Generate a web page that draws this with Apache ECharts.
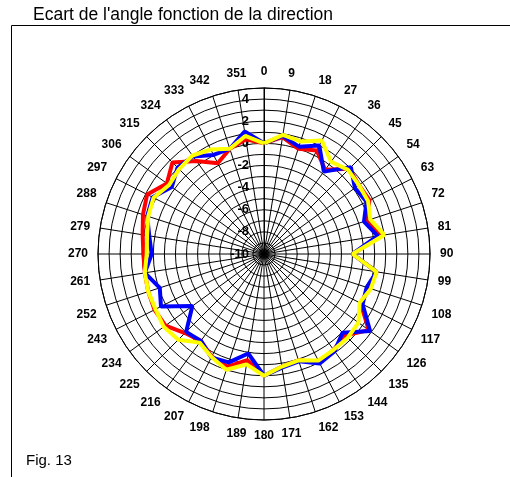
<!DOCTYPE html>
<html>
<head>
<meta charset="utf-8">
<script src="https://cdn.jsdelivr.net/npm/echarts@6/dist/echarts.min.js"></script>
<style>
  html, body { margin: 0; padding: 0; background: #fff; }
</style>
</head>
<body>
<div id="chartBox" style="width: 510px; height: 477px;"></div>
<script>
// directions (degrees)
var angles = [0, 9, 18, 27, 36, 45, 54, 63, 72, 81, 90, 99, 108, 117, 126, 135, 144, 153, 162, 171,
              180, 189, 198, 207, 216, 225, 234, 243, 252, 261, 270, 279, 288, 297, 306, 315, 324, 333, 342, 351];
// angle deviation
var redValues = [0, 0.7, 0, 0.5, -0.6, 0.9, 0.6, 0.7, -0.3, 0.7, -2, 0.3, 0, -0.2, 1.7, 0.4, 0.7, 1.0, 0.1, 0.3,
                 1, -0.3, 0.7, 0.4, -0.3, 0.1, 1.0, 1.1, 1.0, 0.9, 0.9, 1.1, 1.5, 1.85, 0.85, 1.7, 0.4, -0.8, 0, 0.5];
var blueValues = [0, 0.8, 0.2, 1.0, -0.8, 1.1, 0.15, 0.4, -0.5, 0.4, -2, 0.3, -0.25, 0, 1.85, 0.05, 0.85, 1.1, 0.2, 0.4,
                  1, -0.9, 0.3, 0.5, -0.3, -0.05, -2.0, 0.45, -0.1, 0.9, 0.15, 0.5, 1.1, 1.3, 0.3, 1.05, 0.9, 0.05, 0, 1.2];
var yellowValues = [0, 0.9, 0.7, 1.5, 0.3, 0.75, 0.6, 0.55, 0.1, 1.0, -2, 0.3, 0.15, -0.3, 0.55, 0.7, 0.7, 0.8, 0.1, 0.3,
                    1, 0.1, 1.0, 0.45, -0.1, 0.95, 1.2, 1.0, 1.0, 0.9, 0.6, 0.7, 1.0, 1.2, 0.6, 0.85, 1.0, 0.6, 0, 0.8];
var radiusLabels = [-10, -8, -6, -4, -2, 0, 2, 4];

var chart = echarts.init(document.getElementById('chartBox'));

// [radius, angle] pairs, closed back onto the first direction
function toPolar(values) {
  var d = angles.map(function (a, i) { return [values[i], a]; });
  d.push([values[0], 360]);
  return d;
}

function lineSeries(name, values, color) {
  return {
    name: name,
    type: 'line',
    coordinateSystem: 'polar',
    data: toPolar(values),
    symbol: 'none',
    silent: true,
    lineStyle: { color: color, width: 4 }
  };
}

var labelFont = { color: '#000', fontFamily: 'Liberation Sans, Arial', fontWeight: 'bold', fontSize: 12 };

var option = {
  animation: false,
  backgroundColor: '#fff',
  polar: { center: [264, 254], radius: 166 },
  angleAxis: {
    type: 'value',
    min: 0,
    max: 360,
    interval: 9,
    startAngle: 90,
    clockwise: true,
    axisLine: { lineStyle: { color: '#000', width: 1 } },
    axisTick: { show: false },
    axisLabel: Object.assign({
      margin: 10,
      formatter: function (v) { return v === 360 ? '' : String(v); }
    }, labelFont),
    splitLine: { show: true, lineStyle: { color: '#000', width: 1 } }
  },
  radiusAxis: {
    type: 'value',
    min: -10,
    max: 5,
    interval: 1,
    axisLine: { show: true, lineStyle: { color: '#000', width: 1 } },
    axisTick: { show: false },
    axisLabel: Object.assign({
      margin: 15,
      formatter: function (v) { return radiusLabels.indexOf(v) >= 0 ? String(v) : ''; }
    }, labelFont, { fontSize: 13 }),
    splitLine: { show: true, lineStyle: { color: '#000', width: 1 } }
  },
  series: [
    lineSeries('rouge', redValues, '#ff0000'),
    lineSeries('bleu', blueValues, '#0000ff'),
    lineSeries('jaune', yellowValues, '#ffff00')
  ],
  graphic: [
    { type: 'rect', shape: { x: 11.5, y: 25.5, width: 520, height: 470 },
      style: { fill: 'none', stroke: '#000', lineWidth: 1 }, silent: true },
    { type: 'text', left: 33, top: 6,
      style: { text: "Ecart de l'angle fonction de la direction", fontFamily: 'Liberation Sans, Arial',
               fontSize: 17.5, fill: '#000' } },
    { type: 'text', left: 26, top: 453,
      style: { text: 'Fig. 13', fontFamily: 'Liberation Sans, Arial', fontSize: 15, fill: '#000' } }
  ]
};

chart.setOption(option);
</script>
</body>
</html>
